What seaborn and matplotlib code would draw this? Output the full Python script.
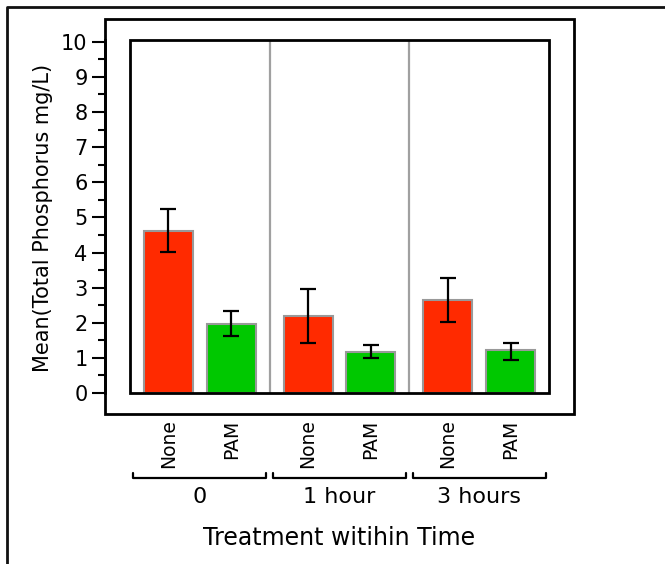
import matplotlib
matplotlib.use("Agg")
import matplotlib.pyplot as plt
import seaborn as sns
import pandas as pd
from matplotlib.patches import Rectangle
from matplotlib.lines import Line2D
from matplotlib.transforms import blended_transform_factory
from matplotlib.ticker import MultipleLocator

times = ["0", "1 hour", "3 hours"]
treatments = ["None", "PAM"]
means_none = [4.62, 2.18, 2.64]
means_pam = [1.97, 1.17, 1.21]
lower_none = [4.02, 1.42, 2.03]
upper_none = [5.24, 2.95, 3.26]
lower_pam = [1.63, 1.01, 0.95]
upper_pam = [2.34, 1.38, 1.43]
colors = {"None": "#ff2a00", "PAM": "#00c800"}

df = pd.DataFrame({
    "Time": times * 2,
    "Treatment": ["None"] * 3 + ["PAM"] * 3,
    "Mean": means_none + means_pam,
    "Lower": lower_none + lower_pam,
    "Upper": upper_none + upper_pam,
})

sns.set_style("white")
plt.rcParams["font.family"] = ["DejaVu Sans"]
plt.rcParams["text.color"] = "black"
plt.rcParams["xtick.color"] = "black"
plt.rcParams["ytick.color"] = "black"

W, H = 665, 564
fig = plt.figure(figsize=(W / 100, H / 100), dpi=100)
ax = fig.add_axes([130 / W, 1 - 393 / H, (549 - 130) / W, (393 - 40) / H])

sns.barplot(data=df, x="Time", y="Mean", hue="Treatment", order=times,
            hue_order=treatments, palette=colors, saturation=1, width=0.9,
            gap=0.22, errorbar=None, edgecolor="#999999", linewidth=1.5,
            legend=False, ax=ax, zorder=2)

# error bars at the bar centres
centers, labels = [], []
for cont, trt in zip(ax.containers, treatments):
    sub = df[df["Treatment"] == trt].set_index("Time").loc[times]
    xs = [p.get_x() + p.get_width() / 2 for p in cont]
    ax.errorbar(xs, sub["Mean"],
                yerr=[sub["Mean"] - sub["Lower"], sub["Upper"] - sub["Mean"]],
                fmt="none", ecolor="black", elinewidth=1.6, capsize=5.5,
                capthick=1.6, zorder=4)
    centers += xs
    labels += [trt] * len(xs)

for x in [0.5, 1.5]:
    ax.axvline(x, color="#a0a0a0", lw=1.6, zorder=1)

ax.set_xlim(-0.5, 2.5)
ax.set_ylim(0, 10.05)
ax.yaxis.set_major_locator(MultipleLocator(1))
ax.yaxis.set_minor_locator(MultipleLocator(0.5))
ax.tick_params(axis="y", which="major", length=9.5, width=1.5, labelsize=15,
               left=True, pad=3)
ax.tick_params(axis="y", which="minor", length=5, width=1.5, left=True)

ax.set_xticks(sorted(centers))
order = sorted(range(len(centers)), key=lambda i: centers[i])
ax.set_xticklabels([labels[i] for i in order], rotation=90, fontsize=13.5,
                   va="top")
ax.tick_params(axis="x", length=0, pad=19)
ax.set_xlabel("")
ax.set_ylabel("")

for s in ["top", "right", "bottom"]:
    ax.spines[s].set_visible(False)
ax.spines["left"].set_position(("outward", 18))
ax.spines["left"].set_color("black")
ax.spines["left"].set_linewidth(2)

ax.add_patch(Rectangle((0, 0), 1, 1, transform=ax.transAxes, fill=False,
                       ec="black", lw=2, clip_on=False, zorder=5))

# frame around the graph
fig.add_artist(Rectangle((105 / W, 1 - 414 / H), (574 - 105) / W,
                         (414 - 19) / H, transform=fig.transFigure,
                         fill=False, ec="black", lw=2))
# outer border
fig.add_artist(Line2D([7 / W, 7 / W, 1], [0, 1 - 7 / H, 1 - 7 / H],
                      transform=fig.transFigure, color="#111111", lw=2))

# group brackets and labels
tr = blended_transform_factory(ax.transData, fig.transFigure)
yb, yt = 1 - 478 / H, 1 - 473 / H
for i, t in enumerate(times):
    x0, x1 = i - 0.475, i + 0.475
    fig.add_artist(Line2D([x0, x0, x1, x1], [yt, yb, yb, yt], transform=tr,
                          color="black", lw=1.6))
    fig.text(i, 1 - 497 / H, t, transform=tr, ha="center", va="center",
             fontsize=16)

fig.text(339.5 / W, 1 - 538 / H, "Treatment witihin Time", ha="center",
         va="center", fontsize=17)
fig.text(43 / W, 1 - 218 / H, "Mean(Total Phosphorus mg/L)", rotation=90,
         ha="center", va="center", fontsize=15)

fig.savefig("out.png", dpi=100)
